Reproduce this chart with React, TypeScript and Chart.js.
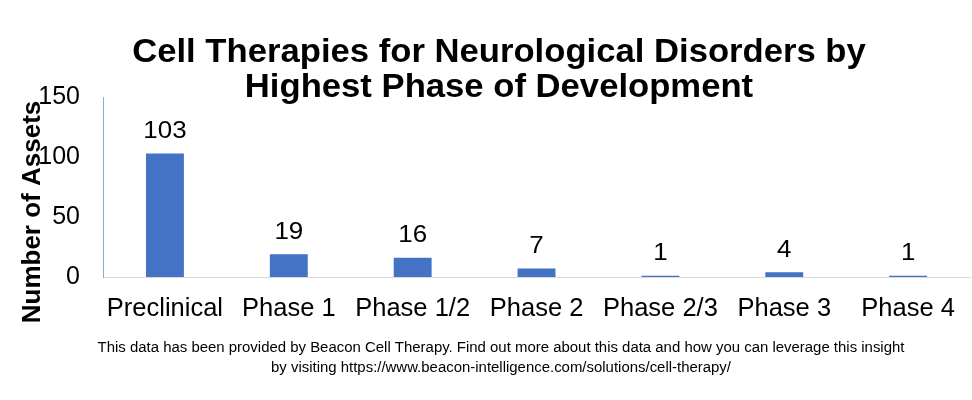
import React, { useEffect, useRef } from "react";
import { Chart, registerables } from "chart.js";

Chart.register(...registerables);

const categories = ["Preclinical", "Phase 1", "Phase 1/2", "Phase 2", "Phase 2/3", "Phase 3", "Phase 4"];
const assetCounts = [103, 19, 16, 7, 1, 4, 1];
const yTicks = [0, 50, 100, 150];
const titleLines = ["Cell Therapies for Neurological Disorders by", "Highest Phase of Development"];
const yAxisTitle = "Number of Assets";
const footerLines = [
  "This data has been provided by Beacon Cell Therapy. Find out more about this data and how you can leverage this insight",
  "by visiting https://www.beacon-intelligence.com/solutions/cell-therapy/",
];

const FONT = "'Liberation Sans', Arial, sans-serif";

function stretchedText(ctx: any, text: string, x: number, y: number, sx: number) {
  ctx.save();
  ctx.translate(x, y);
  ctx.scale(sx, 1);
  ctx.fillText(text, 0, 0);
  ctx.restore();
}

const decorPlugin = {
  id: "decor",
  afterDraw(chart: any) {
    const ctx = chart.ctx;
    ctx.save();
    ctx.fillStyle = "#000";
    ctx.textAlign = "center";
    ctx.textBaseline = "alphabetic";
    // title
    ctx.font = `bold 33px ${FONT}`;
    stretchedText(ctx, titleLines[0], 499, 62, 1.05);
    stretchedText(ctx, titleLines[1], 499, 97, 1.05);
    // footer
    ctx.font = `14px ${FONT}`;
    stretchedText(ctx, footerLines[0], 501, 352, 1.067);
    stretchedText(ctx, footerLines[1], 501, 372, 1.067);
    // y axis title
    ctx.translate(40, 212);
    ctx.rotate(-Math.PI / 2);
    ctx.font = `bold 26px ${FONT}`;
    ctx.fillText(yAxisTitle, 0, 0);
    ctx.restore();
  },
  afterDatasetsDraw(chart: any) {
    const ctx = chart.ctx;
    const meta = chart.getDatasetMeta(0);
    ctx.save();
    ctx.fillStyle = "#000";
    ctx.font = `24px ${FONT}`;
    ctx.textAlign = "center";
    ctx.textBaseline = "middle";
    meta.data.forEach((bar: any, i: number) => {
      stretchedText(ctx, String(assetCounts[i]), bar.x, bar.y - 22, 1.08);
    });
    ctx.restore();
  },
};

export default function App() {
  const ref = useRef<HTMLCanvasElement>(null);
  useEffect(() => {
    if (!ref.current) return;
    const chart = new Chart(ref.current, {
      type: "bar",
      data: {
        labels: categories,
        datasets: [
          {
            data: assetCounts,
            backgroundColor: "#4472C4",
            barPercentage: 0.306,
            categoryPercentage: 1,
          },
        ],
      },
      options: {
        animation: false,
        responsive: true,
        maintainAspectRatio: false,
        layout: { padding: { top: 97, right: 1, left: 0, bottom: 0 } },
        plugins: {
          legend: { display: false },
          title: { display: false },
          tooltip: { enabled: false },
        },
        scales: {
          x: {
            grid: { display: false, drawTicks: false },
            border: { display: true, color: "#d9d9d9", width: 1 },
            ticks: { color: "#000", font: { family: FONT, size: 25.5 }, padding: 17, maxRotation: 0, autoSkip: false },
            afterFit(scale: any) {
              scale.height = 123;
            },
          },
          y: {
            min: 0,
            max: 150,
            afterBuildTicks(scale: any) {
              scale.ticks = yTicks.map((v) => ({ value: v }));
            },
            grid: { display: false, drawTicks: false },
            border: { display: true, color: "#8eaadb", width: 1 },
            ticks: { color: "#000", font: { family: FONT, size: 25 }, padding: 23 },
            afterFit(scale: any) {
              scale.width = 103;
            },
          },
        },
      },
      plugins: [decorPlugin],
    });
    return () => chart.destroy();
  }, []);
  return (
    <div style={{ position: "absolute", left: 0, top: 0, width: 972, height: 400, background: "#fff" }}>
      <canvas ref={ref} />
    </div>
  );
}
